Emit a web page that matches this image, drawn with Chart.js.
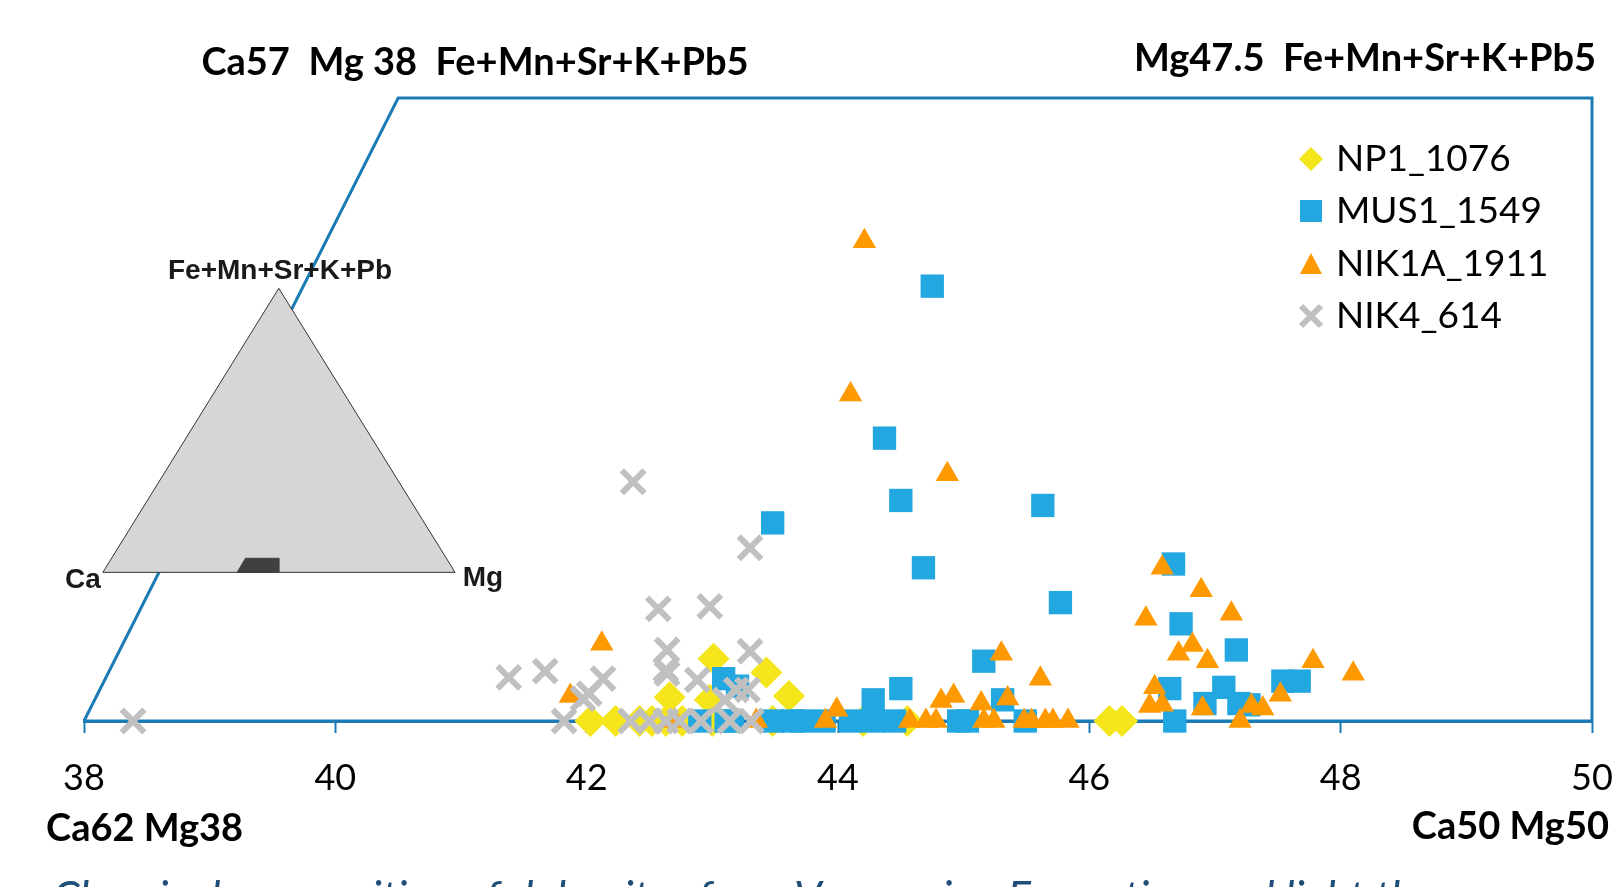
<!DOCTYPE html>
<html>
<head>
<script src="https://cdn.jsdelivr.net/npm/chart.js"></script>
<style>
  html, body { margin: 0; padding: 0; background: #fff; overflow: hidden; }
</style>
</head>
<body>
<canvas id="chart" width="1614" height="887"></canvas>
<script>
// x = Mg + (Fe+Mn+Sr+K+Pb)/2 , y = Fe+Mn+Sr+K+Pb
var np1 = [[42.03,0],[42.23,0],[42.42,0],[42.52,0],[42.63,0],[42.76,0],[43.00,0],[43.48,0],[44.20,0],[44.55,0],
  [46.16,0],[46.26,0],[42.66,0.19],[42.98,0.17],[43.01,0.50],[43.43,0.39],[43.61,0.20]];

var mus1 = [[44.75,3.49],[44.37,2.27],[44.50,1.77],[45.63,1.73],[44.68,1.23],[45.77,0.95],[43.48,1.59],
  [43.09,0.34],[43.20,0.28],[45.16,0.48],[44.50,0.26],[44.28,0.17],[45.31,0.17],
  [42.90,0],[43.11,0],[43.16,0],[43.48,0],[43.64,0],[43.71,0],[43.89,0],[44.10,0],[44.28,0],[44.45,0],
  [44.96,0],[45.03,0],[45.49,0],
  [46.67,1.26],[46.73,0.78],[47.17,0.57],[46.64,0.26],[47.07,0.27],[46.92,0.14],[47.19,0.14],[47.27,0.13],
  [47.54,0.32],[47.67,0.32],[46.68,0]];

var nik1a = [[44.21,3.85],[44.10,2.62],[44.87,1.98],[42.12,0.62],[41.87,0.20],[42.70,0],[43.35,0],
  [45.30,0.54],[45.61,0.34],[43.99,0.09],[43.90,0],[44.57,0],[44.70,0],[44.78,0],[44.82,0.16],[44.92,0.20],
  [45.14,0.14],[45.16,0],[45.24,0],[45.35,0.18],[45.48,0],[45.54,0],[45.65,0],[45.71,0],[45.83,0],
  [46.58,1.23],[46.89,1.05],[46.45,0.82],[47.13,0.86],[46.82,0.61],[46.71,0.54],[46.94,0.48],[47.78,0.48],
  [48.10,0.38],[46.52,0.27],[46.48,0.12],[46.58,0.13],[46.90,0.10],[47.20,0],[47.29,0.12],[47.38,0.10],[47.52,0.21]];

var nik4 = [[38.39,0],[42.37,1.92],[43.30,1.39],[42.57,0.90],[42.98,0.92],[42.64,0.57],[43.30,0.56],
  [41.38,0.35],[41.67,0.40],[42.13,0.34],[42.63,0.41],[42.64,0.38],[42.88,0.33],[43.28,0.25],[43.19,0.25],
  [41.97,0.18],[42.02,0.22],[43.10,0.17],[41.82,0],[42.35,0],[42.50,0],[42.63,0],[42.74,0],[42.91,0],
  [43.14,0],[43.31,0]];

// outline of the projected field and the small ternary key
var frame = [[38,0],[40.5,5],[50,5],[50,0],[38,0]];
var keyTriangle = [[38.15,1.193],[39.55,3.473],[40.953,1.193],[38.15,1.193]];
var keyField = [[39.219,1.193],[39.285,1.306],[39.55,1.306],[39.55,1.193],[39.219,1.193]];

var xTicks = [38, 40, 42, 44, 46, 48, 50];
var seriesNames = ['NP1_1076', 'MUS1_1549', 'NIK1A_1911', 'NIK4_614'];

var BLUE_LINE = '#1b7bb4';
var YELLOW = '#f5e61c', SKY = '#22a7e0', ORANGE = '#ff9900', GREY = '#c0c0c0';

function pts(a) { return a.map(function (p) { return { x: p[0], y: p[1] }; }); }

var overlay = {
  id: 'overlay',
  afterDraw: function (chart) {
    var ctx = chart.ctx;
    ctx.save();
    ctx.fillStyle = '#000';
    ctx.textBaseline = 'middle';
    ctx.font = 'bold 38px Lato';
    ctx.textAlign = 'center';
    ctx.fillText('Ca57  Mg 38  Fe+Mn+Sr+K+Pb5', 475, 63);
    ctx.textAlign = 'right';
    ctx.fillText('Mg47.5  Fe+Mn+Sr+K+Pb5', 1596, 59);
    ctx.fillText('Ca50 Mg50', 1609, 827);
    ctx.textAlign = 'left';
    ctx.fillText('Ca62 Mg38', 46, 829);

    // ternary key labels
    ctx.fillStyle = '#1a1a1a';
    ctx.font = 'bold 28px "Liberation Sans"';
    ctx.textAlign = 'center';
    ctx.fillText('Fe+Mn+Sr+K+Pb', 280, 271);
    ctx.fillText('Ca', 83, 580);
    ctx.fillText('Mg', 483, 578);

    // legend
    var ly = [159, 211, 264, 316];
    var mx = 1311;
    ctx.font = '37px Lato';
    ctx.textAlign = 'left';
    for (var i = 0; i < seriesNames.length; i++) {
      ctx.fillStyle = '#000';
      ctx.fillText(seriesNames[i], 1336, ly[i]);
    }
    ctx.fillStyle = YELLOW;
    ctx.beginPath();
    ctx.moveTo(mx, ly[0] - 12); ctx.lineTo(mx + 12, ly[0]); ctx.lineTo(mx, ly[0] + 12); ctx.lineTo(mx - 12, ly[0]);
    ctx.closePath(); ctx.fill();
    ctx.fillStyle = SKY;
    ctx.fillRect(mx - 11, ly[1] - 11, 22, 22);
    ctx.fillStyle = ORANGE;
    ctx.beginPath();
    ctx.moveTo(mx, ly[2] - 11); ctx.lineTo(mx + 11, ly[2] + 10); ctx.lineTo(mx - 11, ly[2] + 10);
    ctx.closePath(); ctx.fill();
    ctx.strokeStyle = GREY; ctx.lineWidth = 6;
    ctx.beginPath();
    ctx.moveTo(mx - 10, ly[3] - 10); ctx.lineTo(mx + 10, ly[3] + 10);
    ctx.moveTo(mx + 10, ly[3] - 10); ctx.lineTo(mx - 10, ly[3] + 10);
    ctx.stroke();

    // caption, cut by the bottom edge
    ctx.fillStyle = '#1f4e79';
    ctx.font = 'italic 44px Lato';
    ctx.textBaseline = 'alphabetic';
    ctx.fillText('Chemical composition of dolomites from Vacuuming Formation and light the', 52, 913);
    ctx.restore();
  }
};

var chart = new Chart(document.getElementById('chart'), {
  type: 'scatter',
  data: {
    datasets: [
      { label: seriesNames[0], data: pts(np1), pointStyle: 'rectRot', pointRadius: 16,
        pointBackgroundColor: YELLOW, pointBorderColor: YELLOW, pointBorderWidth: 0, clip: false, order: 4 },
      { label: seriesNames[1], data: pts(mus1), pointStyle: 'rect', pointRadius: 16.5,
        pointBackgroundColor: SKY, pointBorderColor: SKY, pointBorderWidth: 0, clip: false, order: 3 },
      { label: seriesNames[2], data: pts(nik1a), pointStyle: 'triangle', pointRadius: 13.5,
        pointBackgroundColor: ORANGE, pointBorderColor: ORANGE, pointBorderWidth: 0, clip: false, order: 2 },
      { label: seriesNames[3], data: pts(nik4), pointStyle: 'crossRot', pointRadius: 16,
        pointBackgroundColor: GREY, pointBorderColor: GREY, pointBorderWidth: 6, clip: false, order: 1 },
      { label: 'frame', data: pts(frame), showLine: true, pointRadius: 0, borderColor: BLUE_LINE,
        borderWidth: 3, fill: false, clip: false, order: 10 },
      { label: 'key', data: pts(keyTriangle), showLine: true, pointRadius: 0, borderColor: '#333',
        borderWidth: 1, backgroundColor: '#d6d6d6', fill: 'shape', clip: false, order: 9 },
      { label: 'keyField', data: pts(keyField), showLine: true, pointRadius: 0, borderColor: '#404040',
        borderWidth: 1, backgroundColor: '#404040', fill: 'shape', clip: false, order: 8 }
    ]
  },
  options: {
    responsive: false,
    animation: false,
    devicePixelRatio: 1,
    layout: { padding: { left: 84, right: 21, top: 98, bottom: 0 } },
    plugins: { legend: { display: false }, tooltip: { enabled: false } },
    scales: {
      x: {
        type: 'linear', min: 38, max: 50,
        afterBuildTicks: function (s) { s.ticks = xTicks.map(function (v) { return { value: v }; }); },
        afterFit: function (s) { s.height = 166; s.paddingLeft = 0; s.paddingRight = 0; },
        border: { color: BLUE_LINE, width: 3 },
        grid: { drawOnChartArea: false, drawTicks: true, tickLength: 12, tickColor: BLUE_LINE, tickWidth: 2 },
        ticks: { color: '#000', font: { family: 'Lato', size: 36 }, padding: 24, maxRotation: 0 }
      },
      y: { type: 'linear', min: 0, max: 5, display: false }
    }
  },
  plugins: [overlay]
});
</script>
</body>
</html>
